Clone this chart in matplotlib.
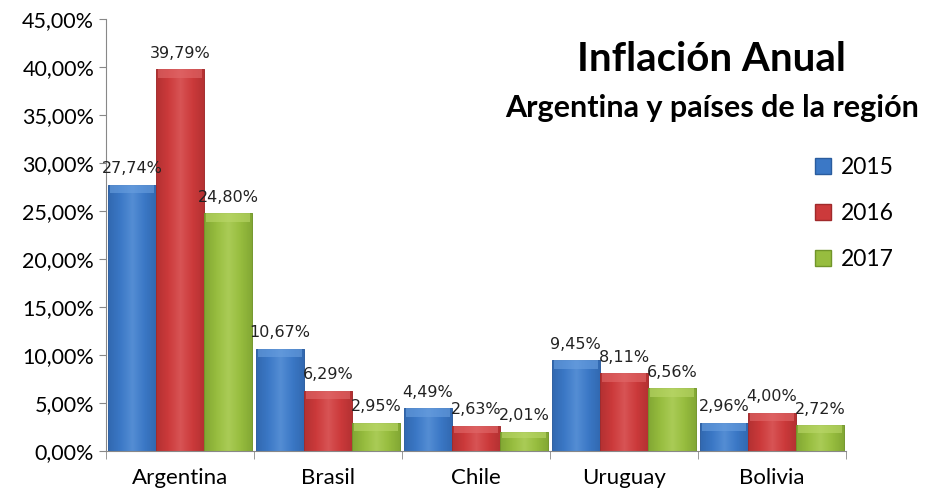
import numpy as np
import matplotlib.pyplot as plt
from matplotlib.colors import LinearSegmentedColormap
from matplotlib.patches import Patch

paises = ["Argentina", "Brasil", "Chile", "Uruguay", "Bolivia"]
anios = ["2015", "2016", "2017"]
inf_2015 = [27.74, 10.67, 4.49, 9.45, 2.96]
inf_2016 = [39.79, 6.29, 2.63, 8.11, 4.00]
inf_2017 = [24.80, 2.95, 2.01, 6.56, 2.72]
series = [inf_2015, inf_2016, inf_2017]

colores = ["#3b78c6", "#cc3a3b", "#97bd3f"]
oscuros = ["#2a5c9e", "#a02a2b", "#71952a"]
claros = ["#6aa0e0", "#e26a6b", "#bbd86a"]

plt.rcParams['font.family'] = ['Lato', 'DejaVu Sans']

fig = plt.figure(figsize=(9.28, 4.94), dpi=100)
ax = fig.add_axes([0.1142, 0.087, 0.7974, 0.8745])

x = np.arange(len(paises))
w = 0.325
for i, (vals, c) in enumerate(zip(series, colores)):
    barras = ax.bar(x + (i - 1) * w, vals, w, color=c, edgecolor=oscuros[i],
                    linewidth=0.6, zorder=2)
    cmap = LinearSegmentedColormap.from_list("g", [oscuros[i], c, claros[i], c, oscuros[i]])
    for b in barras:
        x0, y0 = b.get_x(), b.get_y()
        bw, bh = b.get_width(), b.get_height()
        grad = np.linspace(0, 1, 64).reshape(1, -1)
        im = ax.imshow(grad, cmap=cmap, extent=(x0, x0 + bw, y0, y0 + bh),
                       aspect='auto', zorder=2, alpha=0.55)
        im.set_clip_path(b)
        # bisel superior
        ax.bar(x0 + bw / 2, min(0.9, bh * 0.3), bw * 0.9, bottom=bh - min(0.9, bh * 0.3),
               color=claros[i], alpha=0.6, zorder=3, linewidth=0)
    etiquetas = [f"{v:.2f}%".replace(".", ",") for v in vals]
    ax.bar_label(barras, labels=etiquetas, padding=6, fontsize=11.5,
                 family=['DejaVu Sans'], color="#222222", zorder=5)

ax.set_xlim(-0.5, len(paises) - 0.5)
ax.set_ylim(0, 45)
ax.set_yticks(np.arange(0, 46, 5))
ax.set_yticklabels([f"{v:.2f}%".replace(".", ",") for v in np.arange(0, 46, 5)], fontsize=15.5)
ax.set_xticks(x)
ax.set_xticklabels(paises, fontsize=16)
ax.set_xticks(np.arange(-0.5, len(paises), 1), minor=True)
ax.tick_params(axis='x', which='major', length=0, pad=12)
ax.tick_params(axis='x', which='minor', length=6, color="#888888")
ax.tick_params(axis='y', length=5, color="#888888")
for s in ["top", "right"]:
    ax.spines[s].set_visible(False)
for s in ["left", "bottom"]:
    ax.spines[s].set_color("#888888")

fig.text(0.767, 0.879, "Inflación Anual", fontsize=29, fontweight='bold', ha='center', va='center')
fig.text(0.767, 0.781, "Argentina y países de la región", fontsize=22, fontweight='bold',
         ha='center', va='center')

handles = [Patch(facecolor=c, edgecolor=o) for c, o in zip(colores, oscuros)]
ax.legend(handles, anios, loc='upper left', bbox_to_anchor=(0.93, 0.728), frameon=False,
          fontsize=16.5, handlelength=0.7, handleheight=0.7, labelspacing=1.08, handletextpad=0.45)

fig.savefig("out.png", dpi=100)
